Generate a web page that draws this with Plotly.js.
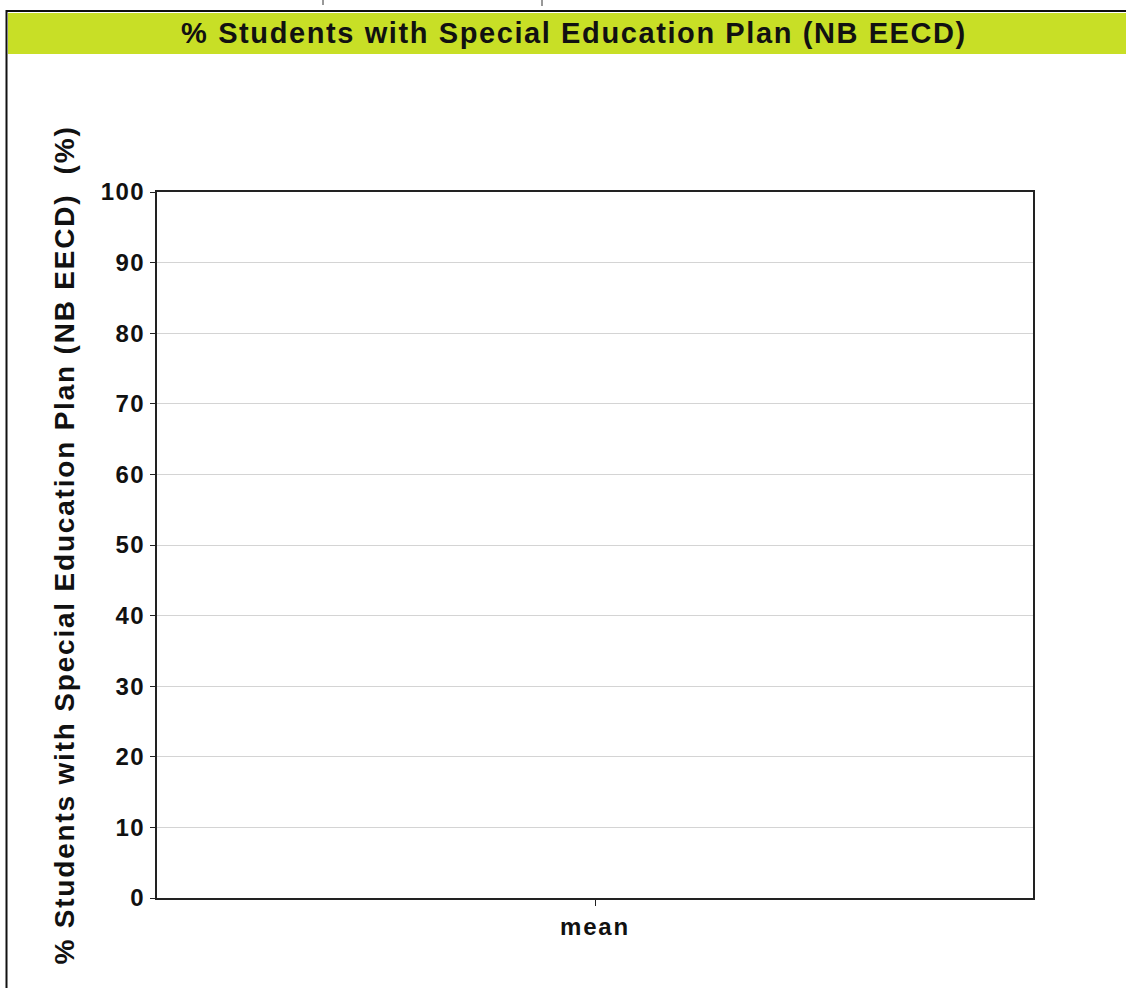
<!DOCTYPE html>
<html>
<head>
<meta charset="utf-8">
<script src="https://cdn.plot.ly/plotly-3.0.1.min.js"></script>
<style>
html,body{margin:0;padding:0;background:#fff;}
#chart{width:1126px;height:988px;}
#chart .gtitle{letter-spacing:1.6px;}
#chart .ytitle{letter-spacing:1.8px;}
#chart .ytick text{letter-spacing:1.5px;}
#chart .xtick text{letter-spacing:1.8px;}
</style>
</head>
<body>
<div id="chart"></div>
<script>
const categories = ["mean"];
const values = [null];
const yTicks = [0, 10, 20, 30, 40, 50, 60, 70, 80, 90, 100];
const chartTitle = "% Students with Special Education Plan (NB EECD)";
const yTitle = "% Students with Special Education Plan (NB EECD)&nbsp;&nbsp;(%)";

const W = 1126, H = 988;
const L = 157, R = 1033, T = 192, B = 898;
const pw = R - L, ph = B - T;
const px = x => (x - L) / pw;
const py = y => (B - y) / ph;

const trace = {
  type: "bar",
  x: categories,
  y: values,
  marker: {color: "#4a6fa5"},
  hoverinfo: "skip"
};

const font = "Liberation Sans, Arial, sans-serif";

const layout = {
  width: W, height: H,
  margin: {l: L, r: W - R, t: T, b: H - B, pad: 0},
  paper_bgcolor: "#ffffff",
  plot_bgcolor: "#ffffff",
  showlegend: false,
  title: {
    text: "<b>" + chartTitle + "</b>",
    font: {family: font, size: 29, color: "#111"},
    xref: "container", x: 574 / W, xanchor: "center",
    yref: "container", y: 1 - 33 / H, yanchor: "middle"
  },
  xaxis: {
    type: "category",
    range: [-0.5, 0.5],
    showline: true, mirror: true, linecolor: "#222", linewidth: 2,
    ticks: "outside", ticklen: 6, tickcolor: "#222", tickwidth: 1,
    tickfont: {family: font, size: 24, color: "#111", weight: "bold"},
    showgrid: false, zeroline: false, fixedrange: true
  },
  yaxis: {
    range: [0, 100],
    tickvals: yTicks,
    showline: true, mirror: true, linecolor: "#222", linewidth: 2,
    ticks: "outside", ticklen: 5, tickcolor: "#222", tickwidth: 1,
    tickfont: {family: font, size: 24, color: "#111", weight: "bold"},
    showgrid: true, gridcolor: "#d4d4d4", gridwidth: 1,
    zeroline: false, fixedrange: true,
    title: {
      text: "<b>" + yTitle + "</b>",
      font: {family: font, size: 28, color: "#111"},
      standoff: 22
    }
  },
  shapes: [
    {type: "rect", xref: "paper", yref: "paper",
     x0: px(8), x1: px(1130), y0: py(54), y1: py(13),
     fillcolor: "#c8df26", line: {width: 0}, layer: "below"},
    {type: "line", xref: "paper", yref: "paper",
     x0: px(6), x1: px(1130), y0: py(11), y1: py(11),
     line: {color: "#111", width: 2}},
    {type: "line", xref: "paper", yref: "paper",
     x0: px(6.5), x1: px(6.5), y0: py(10), y1: py(990),
     line: {color: "#111", width: 2}},
    {type: "line", xref: "paper", yref: "paper",
     x0: px(323), x1: px(323), y0: py(0), y1: py(5),
     line: {color: "#333", width: 1}},
    {type: "line", xref: "paper", yref: "paper",
     x0: px(542), x1: px(542), y0: py(0), y1: py(6),
     line: {color: "#333", width: 1}}
  ]
};

Plotly.newPlot("chart", [trace], layout, {displayModeBar: false, staticPlot: true});
</script>
</body>
</html>
